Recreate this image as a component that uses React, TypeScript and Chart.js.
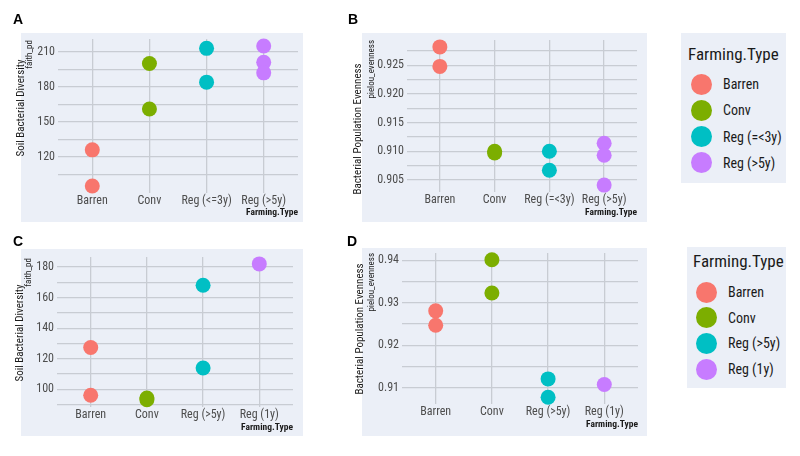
import React, { useEffect, useRef } from "react";
import { Chart, registerables } from "chart.js";

Chart.register(...registerables);

// ---------- colours & fonts ----------
const COLORS = ["#F8766D", "#7CAE00", "#00BFC4", "#C77CFF"];
const PANEL_BG = "#EBEFF7";
const GRID = "#C8CCD3";
const NARROW = "'Liberation Sans Narrow', 'Arial Narrow', 'Roboto Condensed', 'DejaVu Sans Condensed', sans-serif";
const BOLD_FONT = "'Liberation Sans', Arial, sans-serif";

// ---------- Panel A ----------
const categoriesA = ["Barren", "Conv", "Reg (<=3y)", "Reg (>5y)"];
const barrenA = [126, 95];
const convA = [200, 161];
const regShortA = [213, 184];
const regLongA = [215, 201, 192];
const majorTicksA = [120, 150, 180, 210];
const majorLabelsA = ["120", "150", "180", "210"];
const minorTicksA = [105, 135, 165, 195];

// ---------- Panel B ----------
const categoriesB = ["Barren", "Conv", "Reg (=<3y)", "Reg (>5y)"];
const barrenB = [0.9282, 0.9248];
const convB = [0.9100, 0.9097];
const regShortB = [0.9100, 0.9067];
const regLongB = [0.9114, 0.9093, 0.9041];
const majorTicksB = [0.905, 0.91, 0.915, 0.92, 0.925];
const majorLabelsB = ["0.905", "0.910", "0.915", "0.920", "0.925"];
const minorTicksB = [0.9075, 0.9125, 0.9175, 0.9225, 0.9275];

// ---------- Panel C ----------
const categoriesC = ["Barren", "Conv", "Reg (>5y)", "Reg (1y)"];
const barrenC = [127.4, 96.2];
const convC = [94.3, 93.3];
const regLongC = [168, 114];
const regOneC = [182];
const majorTicksC = [100, 120, 140, 160, 180];
const majorLabelsC = ["100", "120", "140", "160", "180"];
const minorTicksC = [90, 110, 130, 150, 170];

// ---------- Panel D ----------
const categoriesD = ["Barren", "Conv", "Reg (>5y)", "Reg (1y)"];
const barrenD = [0.9281, 0.9247];
const convD = [0.9401, 0.9323];
const regLongD = [0.9121, 0.9078];
const regOneD = [0.9108];
const majorTicksD = [0.91, 0.92, 0.93, 0.94];
const majorLabelsD = ["0.91", "0.92", "0.93", "0.94"];
const minorTicksD = [0.915, 0.925, 0.935];

const legendTitle = "Farming.Type";
const xTitle = "Farming.Type";

type Panel = {
  letter: string;
  categories: string[];
  series: number[][];
  yMin: number;
  yMax: number;
  majorTicks: number[];
  majorLabels: string[];
  minorTicks: number[];
  yTitle: string;
  ySub: string;
  left: number;
  top: number;
  width: number;
  height: number;
  padding: { left: number; right: number; top: number; bottom: number };
  yAxisWidth: number;
  xAxisHeight: number;
  xTitlePad: number;
  bgRect: [number, number, number, number];
  letterPos: [number, number];
  yTitlePos: [number, number];
  ySubPos: [number, number];
};

const panels: Panel[] = [
  {
    letter: "A",
    categories: categoriesA,
    series: [barrenA, convA, regShortA, regLongA],
    yMin: 89,
    yMax: 221,
    majorTicks: majorTicksA,
    majorLabels: majorLabelsA,
    minorTicks: minorTicksA,
    yTitle: "Soil Bacterial Diversity",
    ySub: "faith_pd",
    left: 0,
    top: 0,
    width: 330,
    height: 225,
    padding: { left: 28, right: 32, top: 39, bottom: 4 },
    yAxisWidth: 30,
    xAxisHeight: 28,
    xTitlePad: 2.5,
    bgRect: [21, 33, 282, 189],
    letterPos: [13, 24],
    yTitlePos: [21, 108],
    ySubPos: [30, 40],
  },
  {
    letter: "B",
    categories: categoriesB,
    series: [barrenB, convB, regShortB, regLongB],
    yMin: 0.9029,
    yMax: 0.9294,
    majorTicks: majorTicksB,
    majorLabels: majorLabelsB,
    minorTicks: minorTicksB,
    yTitle: "Bacterial Population Evenness",
    ySub: "pielou_evenness",
    left: 330,
    top: 0,
    width: 330,
    height: 225,
    padding: { left: 45, right: 23, top: 40, bottom: 5 },
    yAxisWidth: 32,
    xAxisHeight: 28,
    xTitlePad: 2,
    bgRect: [32, 33, 285, 189],
    letterPos: [18, 24],
    yTitlePos: [28, 129],
    ySubPos: [42, 40],
  },
  {
    letter: "C",
    categories: categoriesC,
    series: [barrenC, convC, regLongC, regOneC],
    yMin: 88.5,
    yMax: 186.5,
    majorTicks: majorTicksC,
    majorLabels: majorLabelsC,
    minorTicks: minorTicksC,
    yTitle: "Soil Bacterial Diversity",
    ySub: "faith_pd",
    left: 0,
    top: 225,
    width: 330,
    height: 231,
    padding: { left: 27, right: 37, top: 32, bottom: 21 },
    yAxisWidth: 30,
    xAxisHeight: 28,
    xTitlePad: 2,
    bgRect: [21, 24, 282, 187],
    letterPos: [13, 21],
    yTitlePos: [20, 108],
    ySubPos: [29, 33],
  },
  {
    letter: "D",
    categories: categoriesD,
    series: [barrenD, convD, regLongD, regOneD],
    yMin: 0.9062,
    yMax: 0.9417,
    majorTicks: majorTicksD,
    majorLabels: majorLabelsD,
    minorTicks: minorTicksD,
    yTitle: "Bacterial Population Evenness",
    ySub: "pielou_evenness",
    left: 330,
    top: 225,
    width: 330,
    height: 231,
    padding: { left: 44, right: 22, top: 28, bottom: 24 },
    yAxisWidth: 28,
    xAxisHeight: 28,
    xTitlePad: 2,
    bgRect: [32, 23, 285, 188],
    letterPos: [17, 21],
    yTitlePos: [30, 104],
    ySubPos: [42, 28],
  },
];

function makeChart(canvas: HTMLCanvasElement, p: Panel) {
  const datasets = p.series.map((vals, i) => ({
    label: p.categories[i],
    data: vals.map((v) => ({ x: i, y: v })),
    backgroundColor: COLORS[i],
    borderColor: COLORS[i],
    pointRadius: 7.5,
    pointHoverRadius: 7.5,
    pointBorderWidth: 0,
    clip: false as any,
  }));

  const decor = {
    id: "decor",
    beforeDraw(chart: any) {
      const ctx = chart.ctx;
      ctx.save();
      ctx.fillStyle = PANEL_BG;
      ctx.fillRect(p.bgRect[0], p.bgRect[1], p.bgRect[2], p.bgRect[3]);
      ctx.restore();
    },
    afterDraw(chart: any) {
      const ctx = chart.ctx;
      ctx.save();
      ctx.fillStyle = "#000";
      ctx.font = `bold 14px ${BOLD_FONT}`;
      ctx.textAlign = "left";
      ctx.textBaseline = "alphabetic";
      ctx.fillText(p.letter, p.letterPos[0], p.letterPos[1]);
      ctx.restore();

      ctx.save();
      ctx.translate(p.yTitlePos[0], p.yTitlePos[1]);
      ctx.rotate(-Math.PI / 2);
      ctx.fillStyle = "#1a1a1a";
      ctx.font = `11px ${NARROW}`;
      ctx.textAlign = "center";
      ctx.textBaseline = "middle";
      ctx.fillText(p.yTitle, 0, 0);
      ctx.restore();

      ctx.save();
      ctx.translate(p.ySubPos[0], p.ySubPos[1]);
      ctx.rotate(-Math.PI / 2);
      ctx.fillStyle = "#1a1a1a";
      ctx.font = `9px ${NARROW}`;
      ctx.textAlign = "right";
      ctx.textBaseline = "middle";
      ctx.fillText(p.ySub, 0, 0);
      ctx.restore();
    },
  };

  const yTickValues = [...p.majorTicks, ...p.minorTicks].sort((a, b) => a - b);

  return new Chart(canvas, {
    type: "scatter",
    data: { datasets },
    plugins: [decor],
    options: {
      animation: false,
      responsive: false,
      maintainAspectRatio: false,
      devicePixelRatio: 1,
      layout: { padding: p.padding },
      plugins: {
        legend: { display: false },
        tooltip: { enabled: false },
        title: { display: false },
      },
      events: [],
      scales: {
        x: {
          type: "linear",
          min: -0.6,
          max: p.categories.length - 0.4,
          afterBuildTicks: (s: any) => {
            s.ticks = p.categories.map((_, i) => ({ value: i }));
          },
          afterFit: (s: any) => {
            s.height = p.xAxisHeight;
          },
          ticks: {
            autoSkip: false,
            maxRotation: 0,
            padding: 1,
            color: "#4D4D4D",
            font: { family: NARROW, size: 12 },
            callback: (v: any) => p.categories[Math.round(Number(v))] ?? "",
          },
          grid: { color: GRID, lineWidth: 1.3, drawTicks: false },
          border: { display: false },
          title: {
            display: true,
            text: xTitle,
            align: "end",
            color: "#1a1a1a",
            font: { family: NARROW, size: 9.5, weight: "bold" },
            padding: { top: 0, bottom: p.xTitlePad },
          },
        },
        y: {
          type: "linear",
          min: p.yMin,
          max: p.yMax,
          afterBuildTicks: (s: any) => {
            s.ticks = yTickValues.map((v) => ({ value: v }));
          },
          afterFit: (s: any) => {
            s.width = p.yAxisWidth;
          },
          ticks: {
            autoSkip: false,
            padding: 3,
            color: "#4D4D4D",
            font: { family: NARROW, size: 12 },
            callback: (v: any) => {
              const i = p.majorTicks.findIndex((m) => Math.abs(m - Number(v)) < 1e-9);
              return i >= 0 ? p.majorLabels[i] : "";
            },
          },
          grid: { color: GRID, lineWidth: 1.3, drawTicks: false },
          border: { display: false },
        },
      },
    } as any,
  });
}

function PanelChart({ p }: { p: Panel }) {
  const ref = useRef<HTMLCanvasElement | null>(null);
  useEffect(() => {
    if (!ref.current) return;
    const chart = makeChart(ref.current, p);
    return () => chart.destroy();
  }, [p]);
  return (
    <canvas
      ref={ref}
      width={p.width}
      height={p.height}
      style={{ position: "absolute", left: p.left, top: p.top, width: p.width, height: p.height }}
    />
  );
}

type LegendBox = {
  labels: string[];
  left: number;
  top: number;
  width: number;
  height: number;
  titleLeft: number;
  titleTop: number;
  firstY: number;
  stepY: number;
  circleX: number;
  labelX: number;
};

const legends: LegendBox[] = [
  {
    labels: categoriesB,
    left: 681,
    top: 33,
    width: 105,
    height: 150,
    titleLeft: 7,
    titleTop: 11,
    firstY: 51,
    stepY: 26.3,
    circleX: 20,
    labelX: 42,
  },
  {
    labels: categoriesD,
    left: 687,
    top: 247,
    width: 99,
    height: 141,
    titleLeft: 6,
    titleTop: 4,
    firstY: 45,
    stepY: 25.7,
    circleX: 19,
    labelX: 41,
  },
];

function Legend({ l }: { l: LegendBox }) {
  return (
    <div
      style={{
        position: "absolute",
        left: l.left,
        top: l.top,
        width: l.width,
        height: l.height,
        background: PANEL_BG,
        fontFamily: NARROW,
        color: "#1a1a1a",
      }}
    >
      <div
        style={{
          position: "absolute",
          left: l.titleLeft,
          top: l.titleTop,
          fontSize: 17,
          lineHeight: "20px",
          whiteSpace: "nowrap",
        }}
      >
        {legendTitle}
      </div>
      {l.labels.map((lab, i) => {
        const cy = l.firstY + i * l.stepY;
        return (
          <React.Fragment key={lab}>
            <div
              style={{
                position: "absolute",
                left: l.circleX - 10.5,
                top: cy - 10.5,
                width: 21,
                height: 21,
                borderRadius: "50%",
                background: COLORS[i],
              }}
            />
            <div
              style={{
                position: "absolute",
                left: l.labelX,
                top: cy - 9,
                fontSize: 14,
                lineHeight: "18px",
                whiteSpace: "nowrap",
              }}
            >
              {lab}
            </div>
          </React.Fragment>
        );
      })}
    </div>
  );
}

export default function App() {
  return (
    <div
      style={{
        position: "absolute",
        left: 0,
        top: 0,
        width: 800,
        height: 456,
        background: "#ffffff",
        overflow: "hidden",
      }}
    >
      {panels.map((p) => (
        <PanelChart key={p.letter} p={p} />
      ))}
      {legends.map((l, i) => (
        <Legend key={i} l={l} />
      ))}
    </div>
  );
}
